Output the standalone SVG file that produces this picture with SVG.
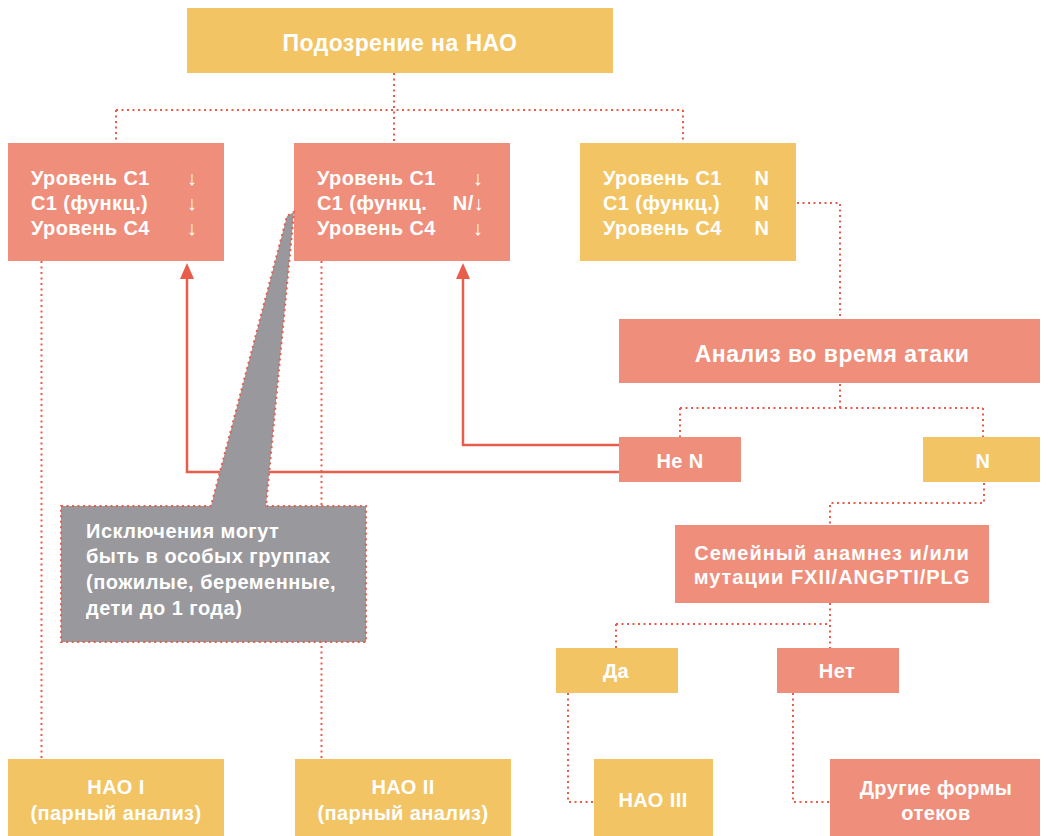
<svg xmlns="http://www.w3.org/2000/svg" width="1048" height="836" viewBox="0 0 1048 836">
<style>
.y{fill:#F3C464}
.s{fill:#EF8E7B}
.t{fill:#fff;font-family:"Liberation Sans",Arial,sans-serif;font-weight:700;font-size:20px;letter-spacing:0.4px}
.c{text-anchor:middle}
.d{fill:none;stroke:#EC5A4A;stroke-width:2;stroke-dasharray:2 3.5}
.r{fill:none;stroke:#E95D4B;stroke-width:2.5}
.k{font-size:20px;letter-spacing:0.5px}
</style>
<rect width="1048" height="836" fill="#fff"/>
<g id="connectors">
<path class="d" d="M394 73V143M116 110H683M116 110V143M683 110V143"/>
<path class="d" d="M797 203H840V319"/>
<path class="d" d="M840 384V408M680 408H983M680 408V437M983 408V437"/>
<path class="d" d="M984 483V503H830V525"/>
<path class="d" d="M830 603V648M616 624H830M616 624V648"/>
<path class="d" d="M568 693V802H594"/>
<path class="d" d="M793 693V802H830"/>
<path class="d" d="M41.5 261V759"/>
<path class="d" d="M321.5 261V759"/>
<path class="r" d="M619 445H463V279"/>
<path class="r" d="M619 472H187V279"/>
<polygon points="463,263 470,279 456,279" fill="#E95D4B"/>
<polygon points="187,263 194,279 180,279" fill="#E95D4B"/>
</g>
<g id="n-top">
<rect class="y" x="187" y="8" width="426" height="65"/>
<text class="t c" x="400" y="51" style="font-size:23px">Подозрение на НАО</text>
</g>
<g id="n-box1">
<rect class="s" x="8" y="143" width="216" height="118"/>
<text class="t" x="31" y="185">Уровень С1</text>
<text class="t" x="31" y="210">С1 (функц.)</text>
<text class="t" x="31" y="235">Уровень С4</text>
<text class="t c" x="192" y="185">↓</text>
<text class="t c" x="192" y="210">↓</text>
<text class="t c" x="192" y="235">↓</text>
</g>
<g id="n-box2">
<rect class="s" x="294" y="143" width="216" height="118"/>
<text class="t" x="317" y="185">Уровень С1</text>
<text class="t" x="317" y="210">С1 (функц.</text>
<text class="t" x="317" y="235">Уровень С4</text>
<text class="t c" x="478" y="185">↓</text>
<text class="t" x="484" y="210" text-anchor="end">N/↓</text>
<text class="t c" x="478" y="235">↓</text>
</g>
<g id="n-box3">
<rect class="y" x="580" y="143" width="216" height="118"/>
<text class="t" x="603" y="185">Уровень С1</text>
<text class="t" x="603" y="210">С1 (функц.)</text>
<text class="t" x="603" y="235">Уровень С4</text>
<text class="t c" x="762" y="185">N</text>
<text class="t c" x="762" y="210">N</text>
<text class="t c" x="762" y="235">N</text>
</g>
<g id="n-analiz">
<rect class="s" x="619" y="319" width="421" height="64"/>
<text class="t c" x="832" y="362" style="font-size:23px;letter-spacing:0.5px">Анализ во время атаки</text>
</g>
<g id="n-neN">
<rect class="s" x="619" y="437" width="122" height="45"/>
<text class="t c" x="680" y="468">Не N</text>
</g>
<g id="n-N">
<rect class="y" x="923" y="437" width="117" height="45"/>
<text class="t c" x="983" y="468">N</text>
</g>
<g id="n-family">
<rect class="s" x="675" y="525" width="314" height="78"/>
<text class="t c" x="832" y="560" style="letter-spacing:1px">Семейный анамнез и/или</text>
<text class="t c" x="832" y="584" style="letter-spacing:1px">мутации FXII/ANGPTI/PLG</text>
</g>
<g id="n-da">
<rect class="y" x="556" y="648" width="122" height="45"/>
<text class="t c" x="616" y="678">Да</text>
</g>
<g id="n-net">
<rect class="s" x="777" y="648" width="122" height="45"/>
<text class="t c" x="837" y="678">Нет</text>
</g>
<g id="n-hao1">
<rect class="y" x="8" y="759" width="216" height="77"/>
<text class="t c" x="116" y="794">НАО I</text>
<text class="t c" x="116" y="820">(парный анализ)</text>
</g>
<g id="n-hao2">
<rect class="y" x="295" y="759" width="216" height="77"/>
<text class="t c" x="403" y="794">НАО II</text>
<text class="t c" x="403" y="820">(парный анализ)</text>
</g>
<g id="n-hao3">
<rect class="y" x="594" y="759" width="119" height="77"/>
<text class="t c" x="653" y="807">НАО III</text>
</g>
<g id="n-other">
<rect class="s" x="830" y="759" width="210" height="77"/>
<text class="t c" x="936" y="795">Другие формы</text>
<text class="t c" x="936" y="820">отеков</text>
</g>
<g id="n-callout">
<polygon points="61,506 211,506 287,216 294,212 266,506 366,506 366,642 61,642" fill="#99989C" stroke="#EC5A4A" stroke-width="2" stroke-dasharray="2 3.5"/>
<text class="t k" x="86" y="538">Исключения могут</text>
<text class="t k" x="86" y="563">быть в особых группах</text>
<text class="t k" x="86" y="589">(пожилые, беременные,</text>
<text class="t k" x="86" y="615">дети до 1 года)</text>
</g>
</svg>
